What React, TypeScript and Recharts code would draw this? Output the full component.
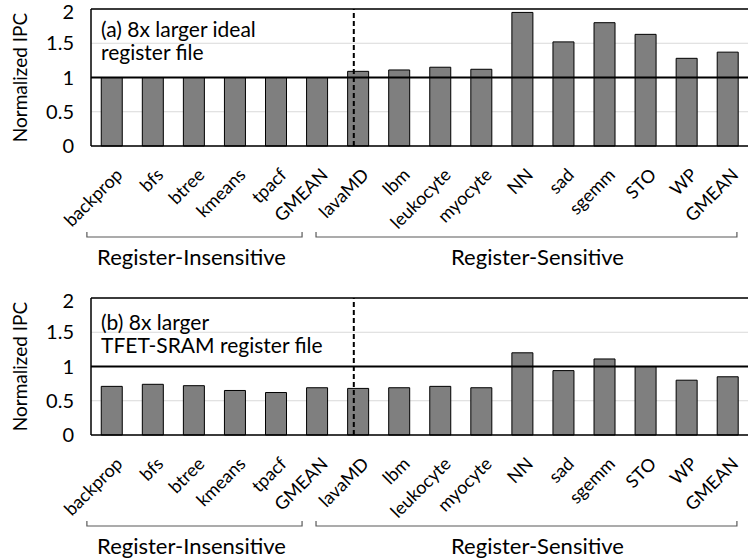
import React from 'react';
import { BarChart, Bar, XAxis, YAxis, CartesianGrid, ReferenceLine } from 'recharts';

const benchmarks = [
  'backprop', 'bfs', 'btree', 'kmeans', 'tpacf', 'GMEAN',
  'lavaMD', 'lbm', 'leukocyte', 'myocyte', 'NN', 'sad', 'sgemm', 'STO', 'WP', 'GMEAN',
];

const idealIpc = [1, 1, 1, 1, 1, 1, 1.09, 1.11, 1.15, 1.12, 1.95, 1.52, 1.8, 1.63, 1.28, 1.37];
const tfetIpc = [0.71, 0.74, 0.72, 0.65, 0.62, 0.69, 0.68, 0.69, 0.71, 0.69, 1.2, 0.94, 1.11, 1.0, 0.8, 0.85];

const groupNames = ['Register-Insensitive', 'Register-Sensitive'];
const groupSizes = [6, 10];

const yTicks = [0, 0.5, 1, 1.5, 2];

const panelA = ['(a) 8x larger ideal', 'register file'];
const panelB = ['(b) 8x larger', 'TFET-SRAM register file'];

// layout
const W = 748;
const H = 271;
const PLOT_LEFT = 91;
const PLOT_TOP = 9;
const X_AXIS_H = 125;
const BAND = (W - PLOT_LEFT) / benchmarks.length;
const FONT = 'Lato, "Open Sans", sans-serif';

// bracket ends (in bands, relative to group start / end) and label nudge in px
const bracketLayout = [
  { left: -0.1, right: -0.86, labelDx: -3 },
  { left: -0.52, right: -0.27, labelDx: 11 },
];

const renderBenchTick = (props: any) => {
  const { x, y, payload, index } = props;
  const ax = Number(x) + 12;
  const ay = Number(y) + 30;
  return (
    <text
      key={`bt-${index}`}
      x={ax}
      y={ay}
      transform={`rotate(-45 ${ax} ${ay})`}
      textAnchor="end"
      fontSize={18}
      fontFamily={FONT}
      fill="#000"
    >
      {benchmarks[payload.value]}
    </text>
  );
};

const YLabel = (props: any) => {
  const { viewBox } = props;
  const cy = viewBox.y + viewBox.height / 2;
  return (
    <text
      x={19}
      y={cy}
      transform={`rotate(-90, 19, ${cy})`}
      textAnchor="middle"
      dominantBaseline="central"
      fontSize={19}
      fontFamily={FONT}
      fill="#000"
    >
      Normalized IPC
    </text>
  );
};

function Groups() {
  let start = 0;
  const items = groupNames.map((name, i) => {
    const s = start;
    const e = start + groupSizes[i];
    start = e;
    const b = bracketLayout[i];
    const x1 = PLOT_LEFT + (s + b.left) * BAND;
    const x2 = PLOT_LEFT + (e + b.right) * BAND;
    const yb = PLOT_TOP + 137 + 91;
    return (
      <g key={name}>
        <path
          d={`M${x1},${yb - 5} L${x1},${yb} L${x2},${yb} L${x2},${yb - 5}`}
          fill="none"
          stroke="#595959"
          strokeWidth={1.2}
        />
        <text
          x={(x1 + x2) / 2 + b.labelDx}
          y={yb + 28}
          textAnchor="middle"
          fontSize={22}
          fontFamily={FONT}
          fill="#000"
        >
          {name}
        </text>
      </g>
    );
  });
  return (
    <svg width={W} height={H} style={{ position: 'absolute', left: 0, top: 0, pointerEvents: 'none' }}>
      {items}
    </svg>
  );
}

function Panel({ values, note, top, noteTop }: { values: number[]; note: string[]; top: number; noteTop: number }) {
  const data = values.map((v, i) => ({ idx: i, ipc: v }));
  return (
    <div style={{ position: 'absolute', left: 0, top, width: W, height: H }}>
      <BarChart
        width={W}
        height={H}
        data={data}
        margin={{ top: PLOT_TOP, right: 0, left: 0, bottom: 0 }}
        barCategoryGap="25%"
      >
        <CartesianGrid horizontal vertical={false} stroke="#d9d9d9" strokeWidth={1.2} />
        <XAxis
          dataKey="idx"
          type="category"
          interval={0}
          height={X_AXIS_H}
          tickLine={false}
          tickSize={0}
          tickMargin={0}
          axisLine={{ stroke: '#000', strokeWidth: 1.5 }}
          tick={renderBenchTick}
        />
        <XAxis xAxisId="grp" type="number" domain={[0, benchmarks.length]} allowDataOverflow hide />
        <YAxis
          domain={[0, 2]}
          ticks={yTicks}
          width={PLOT_LEFT}
          tickLine={false}
          tickSize={0}
          tickMargin={17}
          axisLine={{ stroke: '#000', strokeWidth: 1.5 }}
          tick={{ fontSize: 20, fontFamily: FONT, fill: '#000' }}
          label={<YLabel />}
        />
        <Bar dataKey="ipc" fill="#7f7f7f" stroke="#000" strokeWidth={1} isAnimationActive={false} />
        <ReferenceLine y={2} stroke="#000" strokeWidth={1.5} />
        <ReferenceLine y={1} stroke="#000" strokeWidth={2.2} />
        <ReferenceLine
          xAxisId="grp"
          x={groupSizes[0]}
          stroke="#000"
          strokeWidth={2}
          strokeDasharray="5 3"
        />
      </BarChart>
      <Groups />
      <div
        style={{
          position: 'absolute',
          left: 101,
          top: noteTop,
          fontFamily: FONT,
          fontSize: 21,
          lineHeight: '23px',
          color: '#000',
        }}
      >
        {note.map((l) => (
          <div key={l}>{l}</div>
        ))}
      </div>
    </div>
  );
}

export default function App() {
  return (
    <div style={{ position: 'relative', width: W, height: 560, background: '#fff' }}>
      <style>{`body{margin:0}`}</style>
      <Panel values={idealIpc} note={panelA} top={0} noteTop={17} />
      <Panel values={tfetIpc} note={panelB} top={289} noteTop={21} />
    </div>
  );
}
